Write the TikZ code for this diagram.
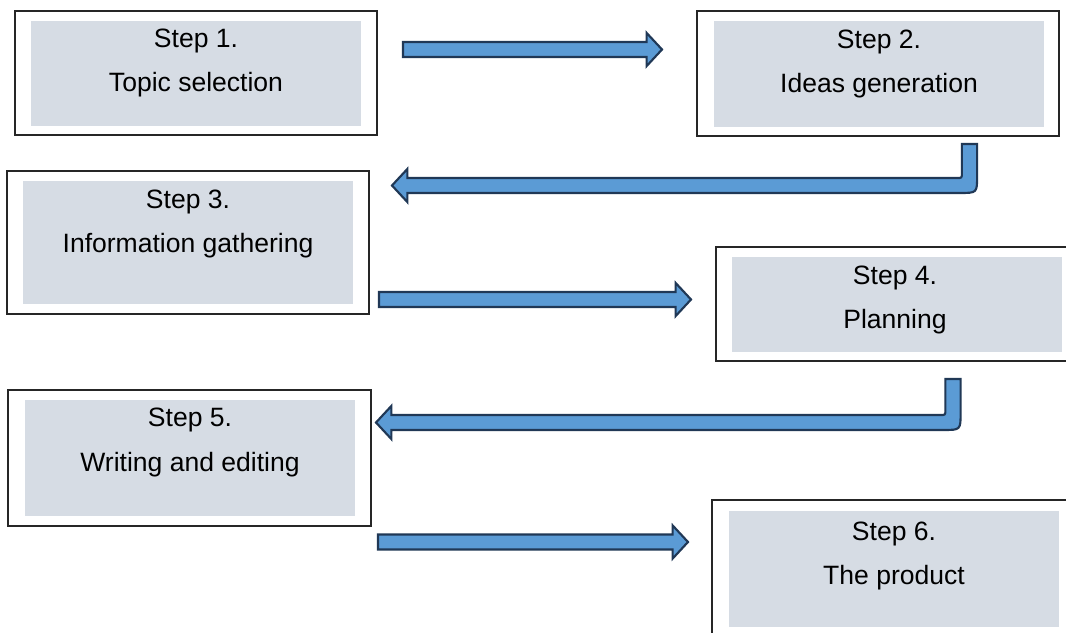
\documentclass[tikz,border=0pt]{standalone}
\usepackage{fontspec}
\setmainfont{Liberation Sans}
\usetikzlibrary{calc}
\definecolor{arrowfill}{RGB}{91,155,213}
\definecolor{arrowline}{RGB}{32,56,86}
\definecolor{innergray}{RGB}{214,220,228}
\tikzset{
  outerbox/.style={draw=black!85, line width=0.9pt, fill=white, inner sep=0pt, rectangle},
  innerbox/.style={fill=innergray, draw=none, inner sep=0pt, rectangle},
  label/.style={inner sep=0pt, anchor=base, font=\fontsize{19.9pt}{24pt}\selectfont},
  barrow/.style={fill=arrowfill, draw=arrowline, line width=1.6pt, line join=miter}
}
% straight right-pointing block arrow from #1 (tail centre) to #2 (tip)
\newcommand\myRarrow[2]{%
  \draw[barrow] let \p1=(#1), \p2=(#2) in
    (\x1,{\y1+5.6pt}) -- ({\x2-11.5pt},{\y1+5.6pt}) -- ({\x2-11.5pt},{\y1+12.4pt})
    -- (\x2,\y1) -- ({\x2-11.5pt},{\y1-12.4pt}) -- ({\x2-11.5pt},{\y1-5.6pt})
    -- (\x1,{\y1-5.6pt}) -- cycle;}
% U-turn block arrow: #1 = top centre of vertical part, #2 = tip (pointing left)
\newcommand\myUarrow[2]{%
  \draw[barrow] let \p1=(#1), \p2=(#2) in
    ({\x1-5.7pt},\y1) -- ({\x1-5.7pt},{\y2+5.6pt+4pt})
    .. controls ({\x1-5.7pt},{\y2+5.6pt}) .. ({\x1-5.7pt-4pt},{\y2+5.6pt})
    -- ({\x2+11.5pt},{\y2+5.6pt}) -- ({\x2+11.5pt},{\y2+12.4pt})
    -- (\x2,\y2) -- ({\x2+11.5pt},{\y2-12.4pt}) -- ({\x2+11.5pt},{\y2-5.6pt})
    -- ({\x1+5.7pt-13pt},{\y2-5.6pt})
    .. controls ({\x1+5.7pt},{\y2-5.6pt}) .. ({\x1+5.7pt},{\y2-5.6pt+13pt})
    -- ({\x1+5.7pt},\y1) -- cycle;}
\begin{document}
\begin{tikzpicture}[x=0.75pt, y=-0.75pt]
\useasboundingbox (0,0) rectangle (1066,632);
\fill[white] (0,0) rectangle (1066,632);

% Box 1
\node[outerbox, minimum width=271.5pt, minimum height=93pt] (b1) at (196,73) {};
\node[innerbox, minimum width=247.5pt, minimum height=78.75pt] (g1) at (196,73.5) {};
\node[label] (s1) at (196,47) {Step 1.};
\node[label] (t1) at (196,91) {Topic selection};

% Box 2
\node[outerbox, minimum width=271.5pt, minimum height=93.75pt] (b2) at (878,73.5) {};
\node[innerbox, minimum width=247.5pt, minimum height=79.5pt] (g2) at (879,74) {};
\node[label] (s2) at (879,48) {Step 2.};
\node[label] (t2) at (879,92) {Ideas generation};

% Box 3
\node[outerbox, minimum width=271.5pt, minimum height=107.25pt] (b3) at (188,242.5) {};
\node[innerbox, minimum width=247.5pt, minimum height=92.25pt] (g3) at (188,242.5) {};
\node[label] (s3) at (188,208) {Step 3.};
\node[label] (t3) at (188,252) {Information gathering};

% Box 4 (cut by the right edge)
\node[outerbox, minimum width=271.5pt, minimum height=85.5pt] (b4) at (897,304) {};
\node[innerbox, minimum width=247.5pt, minimum height=71.25pt] (g4) at (897,304.5) {};
\node[label] (s4) at (895,284) {Step 4.};
\node[label] (t4) at (895,328) {Planning};

% Box 5
\node[outerbox, minimum width=272.25pt, minimum height=102pt] (b5) at (189.5,458) {};
\node[innerbox, minimum width=247.5pt, minimum height=87pt] (g5) at (190,458) {};
\node[label] (s5) at (190,426) {Step 5.};
\node[label] (t5) at (190,471) {Writing and editing};

% Box 6 (cut by the right and bottom edges)
\node[outerbox, minimum width=271.5pt, minimum height=108.75pt] (b6) at (893,572.5) {};
\node[innerbox, minimum width=247.5pt, minimum height=87pt] (g6) at (894,569) {};
\node[label] (s6) at (894,540) {Step 6.};
\node[label] (t6) at (894,584) {The product};

% Arrow ends
\coordinate (a1s) at (403,49.5);
\coordinate (a1e) at (662,49.5);
\coordinate (a2s) at (969.5,144);
\coordinate (a2e) at (392,185.5);
\coordinate (a3s) at (379,299.5);
\coordinate (a3e) at (691,299.5);
\coordinate (a4s) at (953,379);
\coordinate (a4e) at (376,422.5);
\coordinate (a5s) at (378,542);
\coordinate (a5e) at (688,542);

\myRarrow{a1s}{a1e}
\myUarrow{a2s}{a2e}
\myRarrow{a3s}{a3e}
\myUarrow{a4s}{a4e}
\myRarrow{a5s}{a5e}
\end{tikzpicture}
\end{document}
